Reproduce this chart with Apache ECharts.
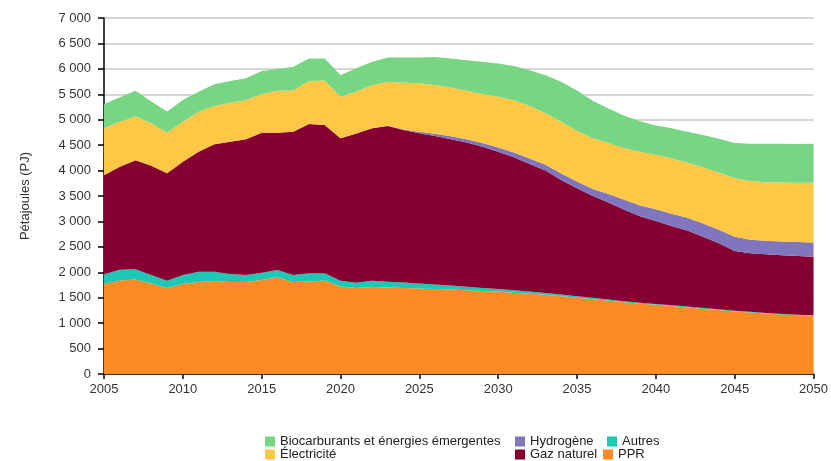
<!DOCTYPE html>
<html>
<head>
<meta charset="utf-8">
<script src="https://cdn.jsdelivr.net/npm/echarts@6/dist/echarts.min.js"></script>
<style>
  html, body { margin: 0; padding: 0; background: #fff; }
  #chart { width: 831px; height: 461px; }
</style>
</head>
<body>
<div id="chart"></div>
<script>
var years = [];
for (var y = 2005; y <= 2050; y++) years.push(String(y));

// valeurs (PJ), 2005 -> 2050
var ppr = [1770, 1840, 1860, 1780, 1690, 1770, 1810, 1830, 1810, 1810,
  1850, 1900, 1810, 1820, 1840, 1720, 1690, 1710, 1700, 1690,
  1680, 1670, 1660, 1645, 1630, 1620, 1600, 1580, 1560, 1530,
  1500, 1470, 1440, 1410, 1380, 1360, 1335, 1310, 1285, 1260,
  1230, 1210, 1190, 1170, 1155, 1140];
var autres = [190, 210, 200, 165, 145, 175, 200, 180, 155, 135,
  140, 145, 135, 160, 140, 115, 105, 125, 115, 110,
  100, 90, 80, 70, 60, 50, 45, 40, 35, 33,
  30, 28, 25, 22, 20, 18, 17, 16, 15, 14,
  13, 12, 11, 11, 10, 10];
var gazNaturel = [1950, 2025, 2145, 2150, 2110, 2230, 2360, 2510, 2600, 2670,
  2755, 2700, 2820, 2935, 2915, 2800, 2935, 2995, 3060, 3000,
  2955, 2920, 2875, 2835, 2780, 2700, 2615, 2510, 2405, 2252,
  2120, 2002, 1905, 1798, 1700, 1632, 1558, 1494, 1400, 1296,
  1177, 1153, 1154, 1154, 1155, 1155];
var hydrogene = [0, 0, 0, 0, 0, 0, 0, 0, 0, 0,
  0, 0, 0, 0, 0, 0, 0, 0, 5, 10,
  30, 45, 60, 65, 70, 85, 95, 105, 115, 125,
  135, 140, 170, 195, 215, 230, 240, 250, 260, 265,
  280, 265, 265, 270, 275, 280];
var electricite = [920, 885, 865, 835, 800, 785, 785, 750, 770, 770,
  760, 825, 810, 845, 875, 815, 820, 850, 865, 915,
  950, 955, 960, 955, 965, 995, 1030, 1035, 1010, 1020,
  1000, 995, 1000, 1015, 1055, 1065, 1090, 1085, 1105, 1125,
  1150, 1155, 1150, 1160, 1165, 1175];
var biocarburants = [480, 480, 500, 430, 415, 430, 395, 425, 425, 430,
  455, 425, 465, 445, 435, 430, 460, 460, 480, 500,
  510, 555, 570, 600, 635, 655, 670, 705, 750, 785,
  790, 740, 680, 640, 600, 580, 590, 610, 635, 665,
  690, 730, 755, 760, 763, 765];

var names = {
  bio: 'Biocarburants et énergies émergentes',
  elec: 'Électricité',
  h2: 'Hydrogène',
  gaz: 'Gaz naturel',
  autres: 'Autres',
  ppr: 'PPR'
};

function area(name, data, color) {
  return {
    name: name,
    type: 'line',
    stack: 'total',
    data: data,
    showSymbol: false,
    symbol: 'none',
    lineStyle: { width: 0 },
    areaStyle: { color: color, opacity: 1 },
    itemStyle: { color: color },
    emphasis: { disabled: true }
  };
}

var legendText = { fontFamily: 'Liberation Sans', fontSize: 13, color: '#222' };
function legend(name, left, top) {
  return {
    data: [name],
    left: left,
    top: top,
    itemWidth: 10,
    itemHeight: 10,
    icon: 'rect',
    padding: 0,
    textStyle: legendText,
    selectedMode: false
  };
}

var chart = echarts.init(document.getElementById('chart'));
chart.setOption({
  animation: false,
  textStyle: { fontFamily: 'Liberation Sans' },
  grid: { left: 104, right: 16, top: 18, bottom: 87 },
  legend: [
    legend(names.bio, 265, 435),
    legend(names.h2, 515, 435),
    legend(names.autres, 607, 435),
    legend(names.elec, 265, 448),
    legend(names.gaz, 515, 448),
    legend(names.ppr, 603, 448)
  ],
  xAxis: {
    type: 'category',
    boundaryGap: false,
    data: years,
    axisLine: { lineStyle: { color: '#000', width: 1.5 } },
    axisTick: { interval: 4, length: 5, lineStyle: { color: '#000', width: 1.5 } },
    axisLabel: { interval: 4, fontSize: 13, color: '#333', margin: 9 },
    splitLine: { show: false }
  },
  yAxis: {
    type: 'value',
    min: 0,
    max: 7000,
    interval: 500,
    name: 'Pétajoules (PJ)',
    nameLocation: 'middle',
    nameGap: 72,
    nameTextStyle: { fontSize: 13, color: '#333' },
    axisLine: { show: true, lineStyle: { color: '#000', width: 1.5 } },
    axisTick: { show: true, length: 6, lineStyle: { color: '#000', width: 1.5 } },
    axisLabel: {
      fontSize: 13,
      color: '#333',
      margin: 13,
      formatter: function (v) {
        return String(v).replace(/\B(?=(\d{3})+(?!\d))/g, ' ');
      }
    },
    splitLine: { lineStyle: { color: '#c8c8c8', width: 1.5 } }
  },
  series: [
    area(names.ppr, ppr, '#fd8a23'),
    area(names.autres, autres, '#1fc8b4'),
    area(names.gaz, gazNaturel, '#860032'),
    area(names.h2, hydrogene, '#8076be'),
    area(names.elec, electricite, '#fec846'),
    area(names.bio, biocarburants, '#76d683')
  ]
});
</script>
</body>
</html>
